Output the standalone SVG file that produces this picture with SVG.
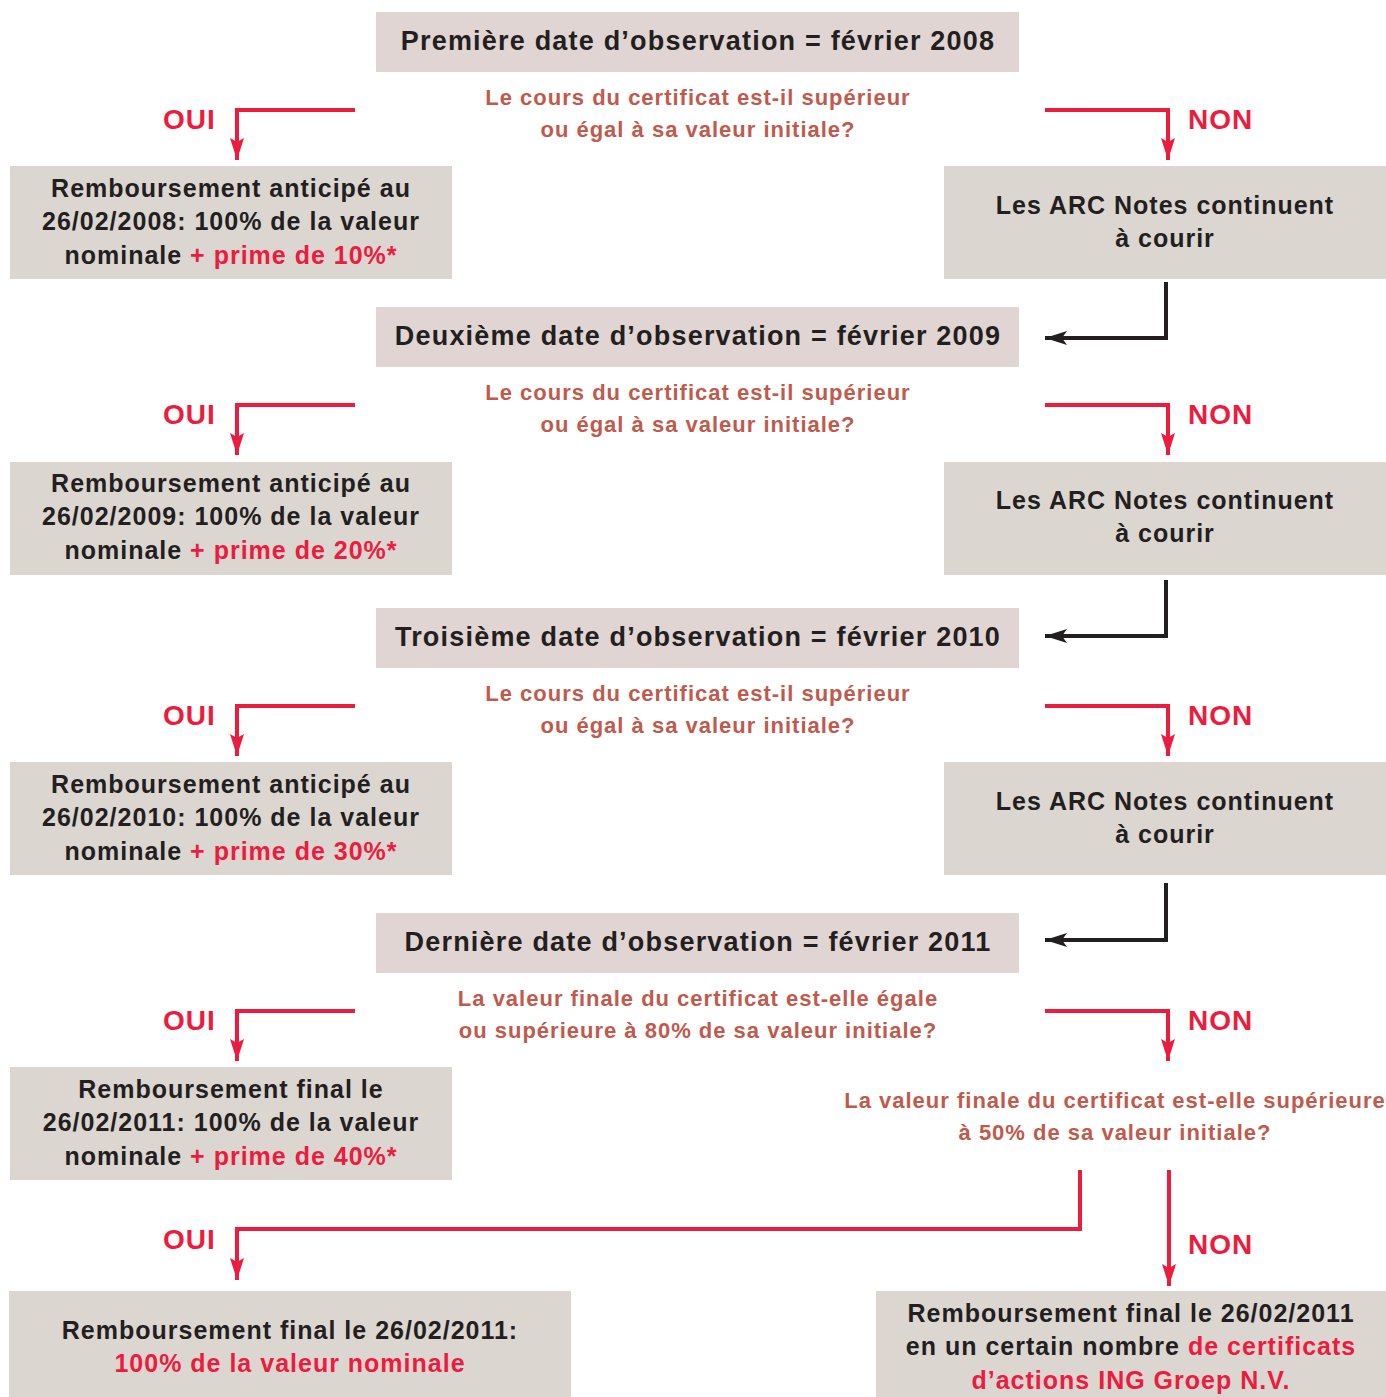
<svg xmlns="http://www.w3.org/2000/svg" width="1386" height="1397" viewBox="0 0 1386 1397">
<style>
text{font-family:"Liberation Sans",Arial,sans-serif;font-weight:bold;text-anchor:middle}
.title{fill:#e0d5d2}
.box{fill:#dbd6d0}
.t{font-size:27px;fill:#231f20;letter-spacing:1.2px}
.q{font-size:22px;fill:#bf5a4c;letter-spacing:1px}
.b{font-size:25px;fill:#231f20;letter-spacing:1px}
.r{fill:#ec1c3f}
.lab{font-size:28px;fill:#ec1c3f;text-anchor:start;letter-spacing:1px}
.red{fill:none;stroke:#ec1c3f;stroke-width:4}
.blk{fill:none;stroke:#231f20;stroke-width:4}
</style>
<defs>
<marker id="ar" markerUnits="userSpaceOnUse" markerWidth="24" markerHeight="16" viewBox="0 -8 24 16" refX="22" refY="0" orient="auto"><path d="M0,-7 L22,0 L0,7 L4,0 z" fill="#ec1c3f"/></marker>
<marker id="ab" markerUnits="userSpaceOnUse" markerWidth="24" markerHeight="16" viewBox="0 -8 24 16" refX="22" refY="0" orient="auto"><path d="M0,-7 L22,0 L0,7 L5,0 z" fill="#231f20"/></marker>
</defs>
<rect width="1386" height="1397" fill="#fff"/>

<g id="connectors">
<path class="red" d="M355,110 H237 V160" marker-end="url(#ar)"/>
<path class="red" d="M1045,110 H1168 V160" marker-end="url(#ar)"/>
<path class="blk" d="M1166,282 V338 H1045" marker-end="url(#ab)"/>
<path class="red" d="M355,405 H237 V455" marker-end="url(#ar)"/>
<path class="red" d="M1045,405 H1168 V455" marker-end="url(#ar)"/>
<path class="blk" d="M1166,580 V636 H1045" marker-end="url(#ab)"/>
<path class="red" d="M355,706 H237 V756" marker-end="url(#ar)"/>
<path class="red" d="M1045,706 H1168 V756" marker-end="url(#ar)"/>
<path class="blk" d="M1166,883 V940 H1045" marker-end="url(#ab)"/>
<path class="red" d="M355,1011 H237 V1061" marker-end="url(#ar)"/>
<path class="red" d="M1045,1011 H1168 V1061" marker-end="url(#ar)"/>
<path class="red" d="M1080,1170 V1229 H237 V1280" marker-end="url(#ar)"/>
<path class="red" d="M1169,1170 V1286" marker-end="url(#ar)"/>
<text class="lab" x="163" y="129">OUI</text>
<text class="lab" x="1188" y="129">NON</text>
<text class="lab" x="163" y="424">OUI</text>
<text class="lab" x="1188" y="424">NON</text>
<text class="lab" x="163" y="725">OUI</text>
<text class="lab" x="1188" y="725">NON</text>
<text class="lab" x="163" y="1030">OUI</text>
<text class="lab" x="1188" y="1030">NON</text>
<text class="lab" x="163" y="1249">OUI</text>
<text class="lab" x="1188" y="1254">NON</text>
</g>

<g id="obs1">
<rect class="title" x="376" y="12" width="643" height="60"/>
<text class="t" x="698" y="50">Première date d’observation = février 2008</text>
</g>
<g id="q1">
<text class="q" x="698" y="105">Le cours du certificat est-il supérieur</text>
<text class="q" x="698" y="137">ou égal à sa valeur initiale?</text>
</g>
<g id="oui1">
<rect class="box" x="10" y="166" width="442" height="113"/>
<text class="b" x="231" y="197">Remboursement anticipé au</text>
<text class="b" x="231" y="230">26/02/2008: 100% de la valeur</text>
<text class="b" x="231" y="264">nominale <tspan class="r">+ prime de 10%*</tspan></text>
</g>
<g id="non1">
<rect class="box" x="944" y="166" width="442" height="113"/>
<text class="b" x="1165" y="214">Les ARC Notes continuent</text>
<text class="b" x="1165" y="247">à courir</text>
</g>

<g id="obs2">
<rect class="title" x="376" y="307" width="643" height="60"/>
<text class="t" x="698" y="345">Deuxième date d’observation = février 2009</text>
</g>
<g id="q2">
<text class="q" x="698" y="400">Le cours du certificat est-il supérieur</text>
<text class="q" x="698" y="432">ou égal à sa valeur initiale?</text>
</g>
<g id="oui2">
<rect class="box" x="10" y="462" width="442" height="113"/>
<text class="b" x="231" y="492">Remboursement anticipé au</text>
<text class="b" x="231" y="525">26/02/2009: 100% de la valeur</text>
<text class="b" x="231" y="559">nominale <tspan class="r">+ prime de 20%*</tspan></text>
</g>
<g id="non2">
<rect class="box" x="944" y="462" width="442" height="113"/>
<text class="b" x="1165" y="509">Les ARC Notes continuent</text>
<text class="b" x="1165" y="542">à courir</text>
</g>

<g id="obs3">
<rect class="title" x="376" y="608" width="643" height="60"/>
<text class="t" x="698" y="646">Troisième date d’observation = février 2010</text>
</g>
<g id="q3">
<text class="q" x="698" y="701">Le cours du certificat est-il supérieur</text>
<text class="q" x="698" y="733">ou égal à sa valeur initiale?</text>
</g>
<g id="oui3">
<rect class="box" x="10" y="762" width="442" height="113"/>
<text class="b" x="231" y="793">Remboursement anticipé au</text>
<text class="b" x="231" y="826">26/02/2010: 100% de la valeur</text>
<text class="b" x="231" y="860">nominale <tspan class="r">+ prime de 30%*</tspan></text>
</g>
<g id="non3">
<rect class="box" x="944" y="762" width="442" height="113"/>
<text class="b" x="1165" y="810">Les ARC Notes continuent</text>
<text class="b" x="1165" y="843">à courir</text>
</g>

<g id="obs4">
<rect class="title" x="376" y="913" width="643" height="60"/>
<text class="t" x="698" y="951">Dernière date d’observation = février 2011</text>
</g>
<g id="q4">
<text class="q" x="698" y="1006">La valeur finale du certificat est-elle égale</text>
<text class="q" x="698" y="1038">ou supérieure à 80% de sa valeur initiale?</text>
</g>
<g id="oui4">
<rect class="box" x="10" y="1067" width="442" height="113"/>
<text class="b" x="231" y="1098">Remboursement final le</text>
<text class="b" x="231" y="1131">26/02/2011: 100% de la valeur</text>
<text class="b" x="231" y="1165">nominale <tspan class="r">+ prime de 40%*</tspan></text>
</g>
<g id="q5">
<text class="q" x="1115" y="1108">La valeur finale du certificat est-elle supérieure</text>
<text class="q" x="1115" y="1140">à 50% de sa valeur initiale?</text>
</g>
<g id="final-oui">
<rect class="box" x="9" y="1291" width="562" height="106"/>
<text class="b" x="290" y="1339">Remboursement final le 26/02/2011:</text>
<text class="b r" x="290" y="1372">100% de la valeur nominale</text>
</g>
<g id="final-non">
<rect class="box" x="876" y="1291" width="510" height="106"/>
<text class="b" x="1131" y="1322">Remboursement final le 26/02/2011</text>
<text class="b" x="1131" y="1355">en un certain nombre <tspan class="r">de certificats</tspan></text>
<text class="b r" x="1131" y="1389">d’actions ING Groep N.V.</text>
</g>
</svg>
